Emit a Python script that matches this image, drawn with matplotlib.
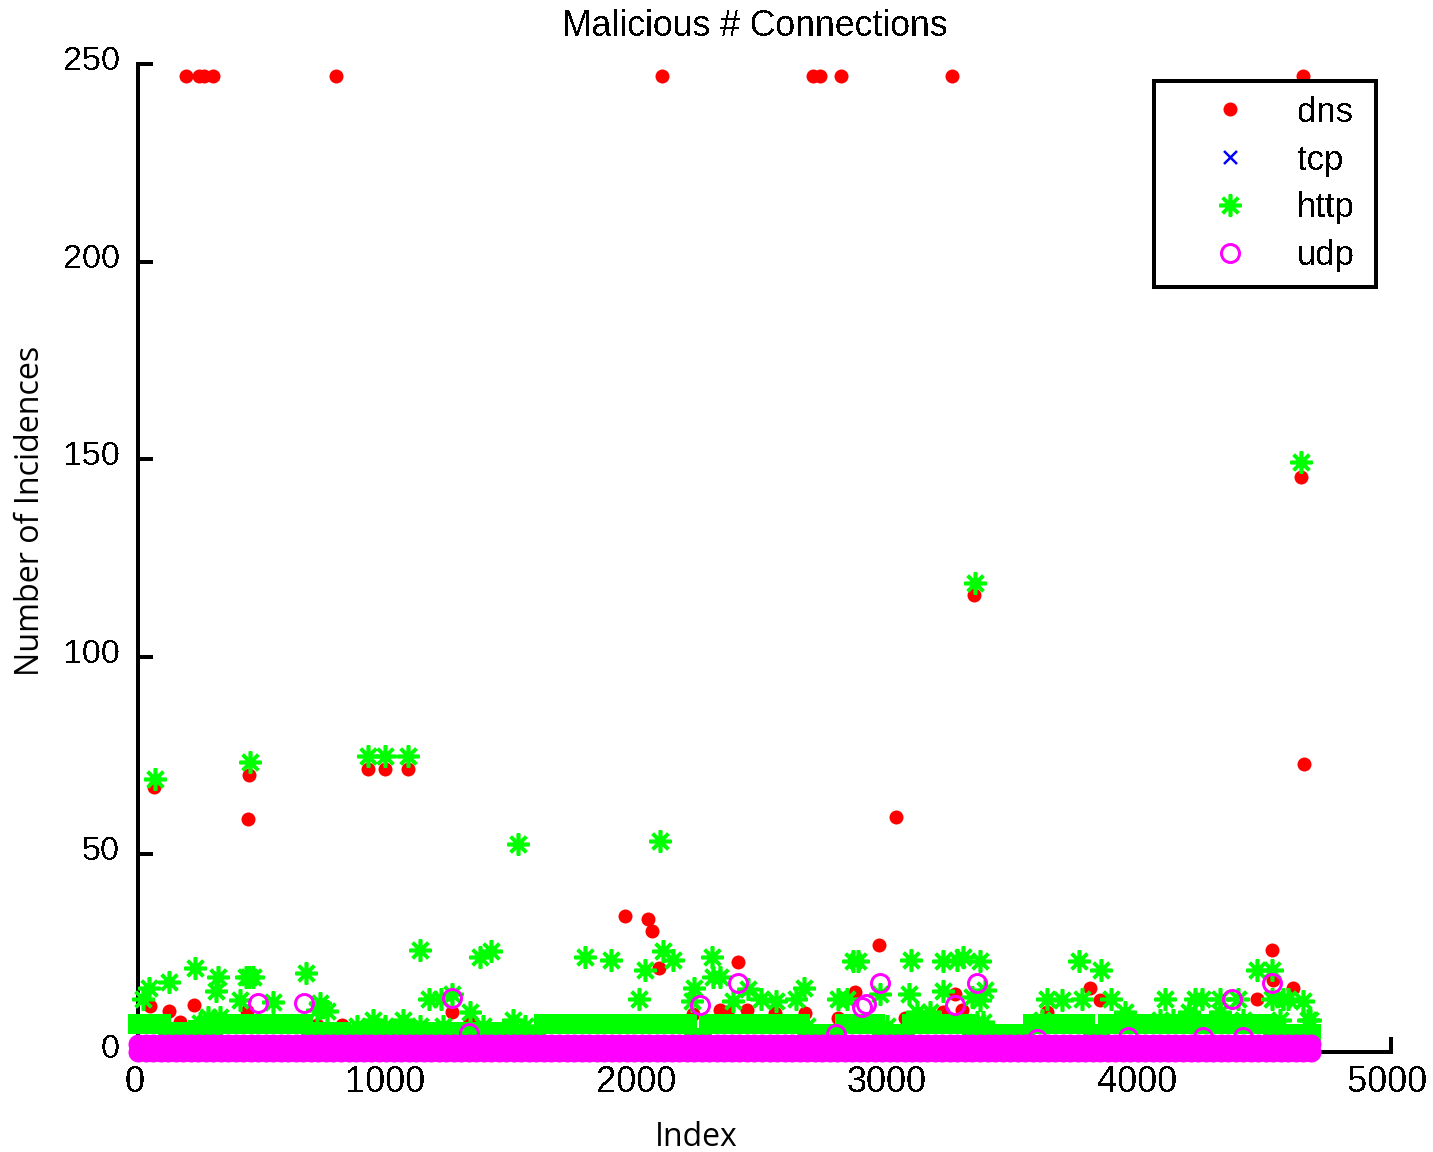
import numpy as np
import matplotlib
matplotlib.use("Agg")
import matplotlib.pyplot as plt
from matplotlib.transforms import ScaledTranslation

plt.rcParams['text.antialiased'] = False
plt.rcParams['lines.antialiased'] = False
plt.rcParams['patch.antialiased'] = False
plt.rcParams['font.family'] = ['Liberation Sans', 'DejaVu Sans']

dns_x = [191, 243, 263, 298, 790, 2091, 2693, 2721, 2805, 3248, 4649,
         64, 439, 443, 918, 986, 1077, 1943, 2036, 2050, 2080, 2395, 2957,
         2216, 2323, 2349, 2429, 2542, 2662, 2795, 2861, 3260, 3214, 3287, 3061,
         48, 124, 223, 168, 434, 301, 813, 1252, 1325, 713, 966,
         3799, 3839, 4526, 4530, 4607, 4467, 3626, 3025, 3336, 4641, 4653]
dns_y = [247, 247, 247, 247, 247, 247, 247, 247, 247, 247, 247,
         67, 59, 70, 71.5, 71.5, 71.5, 34.4, 33.6, 30.7, 21.3, 22.7, 27,
         9.7, 10.6, 10.2, 10.6, 9.8, 9.8, 8.5, 15.3, 14.8, 10.2, 10.6, 8.5,
         11.6, 10.4, 11.8, 7.7, 10.5, 7.3, 6.8, 10.2, 8.1, 6.8, 5.6,
         16.3, 13.2, 25.8, 18.2, 16.3, 13.3, 10.2, 59.5, 115.6, 145.5, 73]

tcp_x = [100, 900, 1700, 2500, 3300, 4100]
tcp_y = [0, 0, 0, 0, 0, 0]

http_x = [68, 447, 918, 986, 1077, 1516, 2083, 3340, 4641, 1125, 1365, 1409, 1784, 1888,
          227, 125, 44, 18, 318, 311, 444, 430, 460, 407, 669, 540, 713, 753, 726,
          1160, 1209, 1252, 1325, 1495, 939, 986, 1059, 247, 281, 327,
          2096, 2136, 2023, 2001, 2292, 2322, 2296, 2220, 2210, 2436, 2376, 2485, 2545,
          2659, 2625, 2795, 2828, 2855, 2875, 3085, 3212, 3267, 3294, 3360, 2961, 3077,
          3214, 3360, 3380, 3327, 3107, 3160,
          3755, 3843, 3626, 3686, 3766, 3881, 4098, 4218, 4245, 4318, 4391, 4464, 4526,
          4524, 4570, 4590, 4650, 4677, 3939, 4194, 3606,
          873, 1125, 1218, 1378, 1544, 2668, 2987, 3347, 3373,
          4078, 4131, 4318, 4411, 4557, 4670]
http_y = [69, 73.4, 75, 75, 75, 52.6, 53.4, 118.7, 149.3, 25.8, 24.1, 25.6, 24, 23.4,
          21.3, 17.8, 16.3, 13.3, 19, 15.4, 19, 19, 19, 13.2, 19.9, 12.6, 10.6, 10.5, 12.3,
          13.3, 13.3, 14.8, 10.2, 8.1, 8.1, 6.6, 8.1, 7.3, 8.9, 8.9,
          25.6, 23.4, 20.7, 13.3, 24.1, 19, 19, 16.1, 13, 15.9, 13, 13.3, 13,
          16.1, 13.3, 13.3, 13.3, 23, 23, 23.4, 23, 23.4, 24, 23, 14.8, 14.8,
          15.4, 13.2, 15.7, 14, 10.2, 10.2,
          23, 20.7, 13.3, 13.2, 13.3, 13.3, 13.3, 13.3, 13.3, 13.3, 13.3, 20.7, 20.7,
          13.3, 13.3, 13.3, 13, 8.1, 10.2, 10.2, 8.1,
          6.6, 6.6, 6.6, 6.6, 6.6, 6.6, 6.6, 7.5, 7.5,
          8.1, 8.1, 10.2, 8.1, 8.1, 8.1]

# Dense low-lying part of the http series, one reading every 30 records
http_band_y = [7, 7, 7, 7, 5, 5, 5, 5, 5.5, 5.5, 5.5,
               7, 7, 7, 7, 7, 7, 7, 7, 7, 7, 7, 7,
               5, 5, 5, 5, 5, 3.5, 3.5, 3.5,
               5, 5, 5, 5, 5, 5, 5, 5, 5,
               5, 5, 5, 5, 5, 5, 5, 5, 5,
               4, 4, 4, 4, 4,
               7, 7, 7, 7, 7, 7, 7, 7, 7, 7, 7, 7, 7, 7, 7, 7, 7, 7, 7, 7,
               3.5, 3.5,
               7, 7, 7, 7, 7, 7, 7, 7, 7, 7, 7, 7, 7,
               4.5, 4.5, 4.5, 4.5, 4.5,
               7, 7, 7, 7, 7,
               4.5, 4.5, 4.5, 4.5,
               7, 7, 7, 7, 7, 7, 7, 7,
               4.5, 4.5, 4.5, 4.5, 4.5, 4.5, 4.5, 4.5,
               7, 7, 7, 7, 7, 7, 7, 7,
               4.5, 4.5,
               7, 7, 7, 7, 7, 7, 7, 7, 7, 7, 7, 7, 7, 7, 7, 7, 7, 7, 7, 7, 7, 7,
               4.5, 4.5, 4.5, 4.5, 4.5, 4.5]

udp_x = [480, 662, 1254, 1322, 2243, 2396, 2889, 2905, 2961, 3260, 3349, 2785,
         4367, 4526, 3950, 4249, 4411, 3586]
udp_y = [12.3, 12.3, 13.6, 4.7, 11.9, 17.5, 11.5, 12.1, 17.5, 11.9, 17.5, 4.6,
         13.3, 17.5, 3.9, 3.9, 3.9, 3.3]
udp_band_levels = [0, 2]

x_ticks = [0, 1000, 2000, 3000, 4000, 5000]
y_ticks = [0, 50, 100, 150, 200, 250]

W, H = 1433, 1152
fig = plt.figure(figsize=(W / 100, H / 100), dpi=100)
ax = fig.add_axes([138 / W, 1 - 1052 / H, (1391 - 138) / W, (1052 - 64) / H])

px = 72 / 100
band_x = np.arange(len(http_band_y)) * 30

ax.plot(dns_x, dns_y, ls='none', marker='o', ms=14 * px, color='#ff0000', mew=0,
        clip_on=False, zorder=3, label='dns')
ax.plot(tcp_x, tcp_y, ls='none', marker='x', ms=13 * px, mew=2.5 * px, color='#0000ff',
        clip_on=False, zorder=3.1, label='tcp')
ax.plot(band_x, http_band_y, ls='none', marker='s', ms=20 * px, color='#00ff00', mew=0,
        clip_on=False, zorder=3.2)
ax.plot(http_x, http_y, ls='none', marker=(8, 2, 0), ms=22 * px, mew=3.6 * px, color='#00ff00',
        clip_on=False, zorder=3.3, label='http')
for level in udp_band_levels:
    ax.plot(band_x, [level] * len(band_x), ls='none', marker='o', ms=20 * px, color='#ff00ff',
            mew=0, clip_on=False, zorder=3.4)
ax.plot(udp_x, udp_y, ls='none', marker='o', ms=18 * px, mew=3 * px, mfc='none', mec='#ff00ff',
        clip_on=False, zorder=3.5, label='udp')

ax.set_xlim(0, 5000)
ax.set_ylim(0, 250)
ax.set_xticks(x_ticks)
ax.set_yticks(y_ticks)
for s in ('top', 'right'):
    ax.spines[s].set_visible(False)
for s in ('left', 'bottom'):
    ax.spines[s].set_linewidth(4 * px)
ax.tick_params(direction='in', length=15 * px, width=4 * px)
ax.tick_params(axis='y', pad=13, labelsize=24.5)
ax.tick_params(axis='x', pad=9, labelsize=26)
for lab in ax.get_yticklabels():
    lab.set_transform(lab.get_transform() + ScaledTranslation(0, 6 / 100, fig.dpi_scale_trans))
for lab in ax.get_xticklabels():
    lab.set_transform(lab.get_transform() + ScaledTranslation(-3 / 100, -1 / 100, fig.dpi_scale_trans))

ax.set_title('Malicious # Connections', fontsize=25.7, x=(755 - 138) / 1253,
             y=(1052 - 27) / 988, va='center', pad=0)
ax.set_xlabel('Index', fontsize=23, family='Open Sans', antialiased=True)
ax.xaxis.set_label_coords((696 - 138) / 1253, -(1138 - 1052) / 988)
ax.xaxis.label.set_va('center')
ax.set_ylabel('Number of Incidences', fontsize=23.2, family='Open Sans', antialiased=True)
ax.yaxis.set_label_coords((31 - 138) / 1253, (1052 - 511) / 988)
ax.yaxis.label.set_va('center')

leg = ax.legend(loc='upper left',
                bbox_to_anchor=((1154 - 138) / 1253, (1052 - 286) / 988, 222 / 1253, 205 / 988),
                mode='expand', borderaxespad=0, fontsize=25, frameon=True, fancybox=False,
                framealpha=1, edgecolor='black', numpoints=1, labelspacing=0.43,
                handlelength=3.56, handletextpad=0.14, borderpad=0.42)
leg.get_frame().set_linewidth(4 * px)
leg.set_zorder(5)

fig.savefig('out.png', dpi=100)
